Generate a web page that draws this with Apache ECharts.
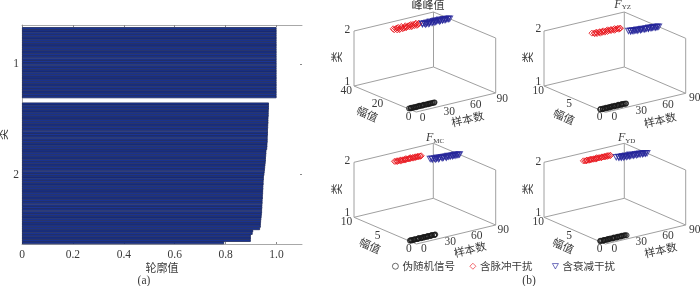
<!DOCTYPE html>
<html>
<head>
<meta charset="utf-8">
<style>html,body{margin:0;padding:0;background:#fff}#c{width:700px;height:286px}</style>
<script src="https://cdn.jsdelivr.net/npm/echarts@6/dist/echarts.min.js"></script>
</head>
<body>
<div id="c"></div>
<script>
// ---- (a) silhouette values ----
const silhouetteClass1 = [1,1,1,1,1,1,1,1,1,1,1,1,1,1,1,1,1,1,1,1,1,1,1,1,1,1,1,1,1,1];
const silhouetteClass2 = [
  0.970,0.970,0.970,0.969,0.969,0.969,0.968,0.968,0.968,0.967,
  0.967,0.966,0.966,0.966,0.965,0.965,0.965,0.964,0.964,0.963,
  0.960,0.960,0.959,0.958,0.958,0.957,0.956,0.955,0.954,0.953,
  0.952,0.950,0.950,0.949,0.949,0.948,0.948,0.947,0.947,0.946,
  0.946,0.945,0.945,0.944,0.944,0.943,0.943,0.942,0.941,0.940,
  0.939,0.938,0.938,0.935,0.908,0.906,0.899,0.899,0.899,0.794];
const xTicks = [0,0.2,0.4,0.6,0.8,1.0];
const clusterNames = ['1','2'];

// ---- (b) amplitudes, one value per sample ----
const sampleTicks = [0,30,60,90];
const peakBlack = [5.2,4.8,5.1,5.4,4.9,5.0,5.3,4.7,5.1,5.2,4.9,5.0,5.4,5.1,4.8,5.0,5.2,5.3,4.9,5.1,5.0,4.8,5.2,5.1,4.9,5.3,5.0,5.1,4.9,5.2];
const peakRed = [31.8,33.0,31.0,32.5,30.6,32.8,31.4,33.2,30.8,32.0,31.2,33.4,30.9,32.2,31.6,33.1,31.0,32.4,30.7,32.6,31.5,33.0,31.1,32.7,30.8,32.3,31.3,33.2,31.9,32.5];
const peakBlue = [30.6,31.2,29.8,31.0,30.2,29.4,31.1,30.0,30.8,29.6,31.3,30.3,29.5,30.9,29.9,31.0,30.4,29.3,30.7,29.8,30.9,29.6,30.2,29.2,30.6,29.7,30.3,29.5,30.0,29.6];
const yzBlack = [1.0,1.1,0.9,1.0,1.1,1.0,0.9,1.1,1.0,1.0,0.9,1.1,1.0,1.0,1.1,0.9,1.0,1.1,1.0,0.9,1.0,1.1,1.0,0.9,1.0,1.1,1.0,1.0,0.9,1.0];
const yzRed = [6.7,6.4,6.6,6.3,6.5,6.7,6.2,6.5,6.6,6.3,6.5,6.2,6.6,6.4,6.2,6.5,6.3,6.6,6.2,6.4,6.5,6.1,6.4,6.2,6.5,6.3,6.1,6.4,6.2,6.3];
const yzBlue = [5.1,4.9,5.0,4.8,5.0,4.8,4.9,4.7,4.9,4.8,4.6,4.8,4.7,4.8,4.6,4.7,4.6,4.7,4.5,4.6,4.7,4.5,4.6,4.5,4.6,4.4,4.5,4.4,4.5,4.4];
const mcBlack = [1.2,1.1,1.3,1.2,1.1,1.2,1.3,1.2,1.1,1.2,1.2,1.3,1.1,1.2,1.2,1.1,1.3,1.2,1.2,1.1,1.2,1.3,1.2,1.1,1.2,1.2,1.3,1.1,1.2,1.2];
const mcRed = [7.9,7.8,7.7,7.9,7.8,7.6,7.8,7.9,7.7,7.8,7.6,7.8,7.7,7.9,7.7,7.6,7.8,7.7,7.9,7.6,7.8,7.7,7.6,7.8,7.7,7.6,7.8,7.6,7.7,7.7];
const mcBlue = [6.4,6.2,6.4,6.0,6.3,6.1,5.9,6.3,6.1,6.2,5.9,6.2,6.0,6.1,5.8,6.1,6.0,5.9,6.1,5.9,6.0,5.8,6.0,5.9,5.8,6.0,5.8,5.9,5.8,5.8];
const ydBlack = [1.0,1.1,1.0,0.9,1.0,1.1,1.0,1.0,0.9,1.1,1.0,1.0,1.1,0.9,1.0,1.0,1.1,1.0,0.9,1.0,1.1,1.0,1.0,0.9,1.0,1.1,1.0,1.0,1.0,0.9];
const ydRed = [8.1,8.0,7.9,8.0,8.1,7.9,8.0,7.9,8.1,8.0,7.9,8.0,7.8,8.0,7.9,8.1,7.9,8.0,7.8,7.9,8.0,7.9,7.8,8.0,7.9,7.8,8.0,7.9,7.8,7.9];
const ydBlue = [7.1,6.8,7.0,6.7,6.9,6.6,7.0,6.8,6.6,6.9,6.7,6.5,6.8,6.6,6.9,6.5,6.7,6.6,6.4,6.7,6.5,6.6,6.4,6.6,6.3,6.5,6.4,6.3,6.4,6.3];

const seriesNames = ['伪随机信号','含脉冲干扰','含衰减干扰'];
const colors = ['#1a1a1a','#e8141c','#25259a'];
const serif = '"Liberation Serif","Noto Sans CJK SC",serif';
const cjk = '"Noto Sans CJK SC",serif';
const txt = '#3a3a3a', axisGray = '#a8a8a8';
const triPath = 'path://M0 0 L10 0 L5 9 Z';
const symbols = ['circle','diamond',triPath];

// ---- (b) panel layout: wall corners of the 3D box, in pixels ----
const panels = [
  {L:[354,86], B:[433.5,67], R:[495.7,93], h:55, ampMax:40, ampTicks:[0,20,40], data:[peakBlack,peakRed,peakBlue],
   title:{text:'峰峰值',x:428,y:5,cjk:true}, dxA:-7.7, dyA:5, dxS:6.5, dyS:6, clsX:347.3, clsOff:[-.7,-4.3],
   y:[336.7,57], amp:[367.3,114], smp:[467.7,119]},
  {L:[544,86], B:[624.3,67], R:[685.7,93.3], h:55, ampMax:10, ampTicks:[0,5,10], data:[yzBlack,yzRed,yzBlue],
   title:{main:'F',sub:'YZ',x:622.7,y:5}, dxA:-5.7, dyA:5, dxS:9, dyS:5, clsX:538.3, clsOff:[-2,-4.3],
   y:[528.3,57.3], amp:[564,116.7], smp:[660,120]},
  {L:[354,217.3], B:[433.3,198.3], R:[495.7,225], h:55, ampMax:10, ampTicks:[0,5,10], data:[mcBlack,mcRed,mcBlue],
   title:{main:'F',sub:'MC',x:435,y:138.3}, dxA:-7.5, dyA:5, dxS:7.5, dyS:4.5, clsX:347.3, clsOff:[-1.6,-4.6],
   y:[336.7,189], amp:[370,245.7], smp:[470,249.3]},
  {L:[544,217.3], B:[624.3,198.3], R:[685.7,225], h:55, ampMax:10, ampTicks:[0,5,10], data:[ydBlack,ydRed,ydBlue],
   title:{main:'F',sub:'YD',x:626.7,y:138.3}, dxA:-5.7, dyA:5, dxS:9, dyS:4.5, clsX:538.3, clsOff:[-.6,-4.6],
   y:[528.3,189], amp:[563.3,245.7], smp:[660.7,250]}
];

function projector(p){
  const F=[p.L[0]+p.R[0]-p.B[0], p.L[1]+p.R[1]-p.B[1]];
  return (s,a,c)=>[
    F[0]+(s/90)*(p.R[0]-F[0])+(a/p.ampMax)*(p.L[0]-F[0]),
    F[1]+(s/90)*(p.R[1]-F[1])+(a/p.ampMax)*(p.L[1]-F[1])-(c-1)*p.h
  ];
}

// ---- (a) category axis built from the clusters ----
const padTop=1, gap=2;
const n1=silhouetteClass1.length, n2=silhouetteClass2.length;
const cats=[], barVals=[];
for(let i=0;i<padTop;i++){cats.push('');barVals.push(null);}
silhouetteClass1.forEach((v,i)=>{cats.push(i===Math.floor(n1/2)?clusterNames[0]:'');barVals.push(v);});
for(let i=0;i<gap;i++){cats.push('');barVals.push(null);}
silhouetteClass2.forEach((v,i)=>{cats.push(i===Math.floor(n2/2)?clusterNames[1]:'');barVals.push(v);});
const hasLabel=(i,v)=>v!=='';

const grids=[{left:22,top:25,width:280,height:219,outerBoundsMode:'none'}];
const xAxes=[
 {gridIndex:0,type:'value',min:0,max:1.1,position:'bottom',splitLine:{show:false},
  axisLine:{show:true,lineStyle:{color:axisGray,width:1}},
  axisTick:{show:true,inside:true,length:2,customValues:xTicks,lineStyle:{color:'#888'}},
  axisLabel:{customValues:xTicks,color:txt,fontFamily:serif,fontSize:11.5,margin:5,formatter:v=>v===0?'0':v.toFixed(1)},
  name:'轮廓值',nameLocation:'middle',nameGap:18,nameMoveOverlap:false,
  nameTextStyle:{color:txt,fontFamily:cjk,fontSize:11}},
 {gridIndex:0,type:'value',min:0,max:1.1,position:'top',splitLine:{show:false},
  axisLine:{show:true,lineStyle:{color:axisGray,width:1}},
  axisTick:{show:true,inside:true,length:2,customValues:xTicks,lineStyle:{color:'#888'}},
  axisLabel:{show:false}}
];
const yAxes=[
 {gridIndex:0,type:'category',inverse:true,data:cats,position:'left',
  axisLine:{show:true,onZero:false,lineStyle:{color:axisGray,width:1}},
  axisTick:{show:false},
  axisLabel:{interval:hasLabel,color:txt,fontFamily:serif,fontSize:11.5,margin:3},
  name:'类',nameLocation:'middle',nameGap:14,nameRotate:90,
  nameTextStyle:{color:txt,fontFamily:cjk,fontSize:11}},
 {gridIndex:0,type:'category',inverse:true,data:cats,position:'right',
  axisLine:{show:false,onZero:false},
  axisTick:{show:true,inside:true,length:2,alignWithLabel:true,interval:hasLabel,lineStyle:{color:'#888'}},
  axisLabel:{show:false}}
];
const series=[{
  type:'bar',xAxisIndex:0,yAxisIndex:0,data:barVals,barWidth:2.8,silent:true,
  itemStyle:{color:'#1a3596',borderColor:'#1b2658',borderWidth:0.8}
}];
const graphic=[];
function text(str,x,y,o){
  graphic.push(Object.assign({type:'text',x:x,y:y,silent:true,
    style:Object.assign({text:str,align:'center',verticalAlign:'middle',fill:txt,font:'11.5px '+serif},o&&o.style||{})},
    o&&o.rotation!==undefined?{rotation:o.rotation}:{}));
}

panels.forEach((p,k)=>{
  const P=projector(p), gi=k+1, ax=k+2;
  const left=p.L[0], right=p.R[0], top=p.B[1]-p.h, bottom=p.L[1]+(p.R[1]-p.B[1]);
  grids.push({left:left,top:top,width:right-left,height:bottom-top,outerBoundsMode:'none'});
  xAxes.push({gridIndex:gi,type:'value',min:left,max:right,show:false});
  yAxes.push({gridIndex:gi,type:'value',min:top,max:bottom,inverse:true,show:false});
  const S=90,A=p.ampMax;
  const edges=[
    [[0,A,1],[S,A,1]],[[S,A,1],[S,0,1]],[[0,A,1],[0,0,1]],[[0,0,1],[S,0,1]],
    [[0,A,2],[S,A,2]],[[S,A,2],[S,0,2]],
    [[0,A,1],[0,A,2]],[[S,A,1],[S,A,2]],[[S,0,1],[S,0,2]]
  ];
  edges.forEach(e=>series.push({type:'line',xAxisIndex:ax,yAxisIndex:ax,silent:true,symbol:'none',clip:false,z:1,
    lineStyle:{color:'#a0a0a0',width:1},data:e.map(q=>P(q[0],q[1],q[2]))}));
  p.data.forEach((vals,j)=>{
    const cls=j===0?1:2, start=j===0?0:j===1?30:60;
    series.push({type:'scatter',name:seriesNames[j],xAxisIndex:ax,yAxisIndex:ax,silent:true,clip:false,z:3,
      symbol:symbols[j],symbolSize:j===2?[6,5.5]:j===1?6:4.6,
      itemStyle:{color:'rgba(255,255,255,0)',borderColor:colors[j],borderWidth:j===0?1.2:1},
      data:vals.map((v,i)=>P(start+i+1,v,cls))});
  });
  [2,1].forEach(c=>{const q=P(0,A,c);text(String(c),p.clsX,q[1]+(c===2?p.clsOff[0]:p.clsOff[1]));});
  p.ampTicks.forEach(a=>{const q=P(0,a,1);text(String(a),q[0]+p.dxA,q[1]+p.dyA);});
  sampleTicks.forEach(s=>{const q=P(s,0,1);text(String(s),q[0]+p.dxS,q[1]+p.dyS);});
  text('类',p.y[0],p.y[1],{rotation:Math.PI/2,style:{font:'11px '+cjk}});
  text('幅值',p.amp[0],p.amp[1],{rotation:-0.42,style:{font:'11px '+cjk}});
  text('样本数',p.smp[0],p.smp[1],{rotation:0.23,style:{font:'11px '+cjk}});
  if(p.title.cjk){ text(p.title.text,p.title.x,p.title.y,{style:{font:'11px '+cjk}}); }
  else {
    graphic.push({type:'text',x:p.title.x,y:p.title.y,silent:true,style:{
      text:'{m|'+p.title.main+'}{s|'+p.title.sub+'}',align:'center',verticalAlign:'middle',fill:txt,
      rich:{m:{font:'italic 12px '+serif,fill:txt},s:{font:'7px '+serif,fill:txt,verticalAlign:'bottom',padding:[5,0,0,0]}}}});
  }
});
text('(a)',144,281,{});
text('(b)',529,281,{});

const legendLefts=[392,469.5,552];
const legends=seriesNames.map((nm,j)=>({data:[{name:nm,icon:symbols[j]}],left:legendLefts[j],top:261,
  itemWidth:6,itemHeight:6,itemGap:0,padding:0,selectedMode:false,
  itemStyle:{borderWidth:0.8,borderColor:colors[j],color:'#fff'},
  textStyle:{color:txt,fontFamily:cjk,fontSize:10.5,padding:[0,0,0,-1]}}));

const chart=echarts.init(document.getElementById('c'),null,{renderer:'canvas'});
chart.setOption({animation:false,backgroundColor:'#fff',grid:grids,xAxis:xAxes,yAxis:yAxes,series:series,graphic:graphic,legend:legends});
</script>
</body>
</html>
